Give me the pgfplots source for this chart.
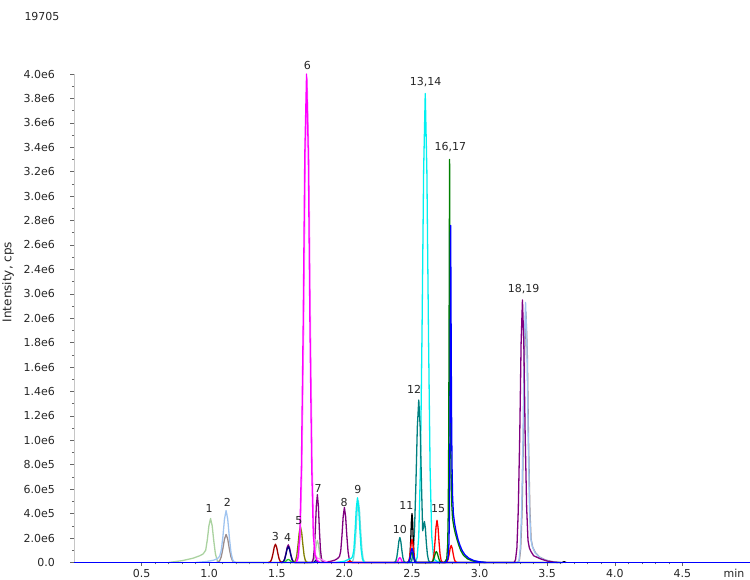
\documentclass[border=0pt]{standalone}
\usepackage{pgfplots}
\pgfplotsset{compat=1.18}
\usepackage{fontspec}
\setmainfont{DejaVu Sans}
\definecolor{cLG}{RGB}{170,210,160}
\definecolor{cLB}{RGB}{160,196,240}
\definecolor{cGR}{RGB}{155,140,140}
\definecolor{cDR}{RGB}{160,0,0}
\definecolor{cNV}{RGB}{0,0,128}
\definecolor{cPU}{RGB}{128,0,128}
\definecolor{cOL}{RGB}{128,128,0}
\definecolor{cBG}{RGB}{40,200,40}
\definecolor{cPK}{RGB}{255,130,255}
\definecolor{cMG}{RGB}{255,0,255}
\definecolor{cLC}{RGB}{110,220,220}
\definecolor{cCY}{RGB}{0,240,240}
\definecolor{cTL}{RGB}{0,128,128}
\definecolor{cBK}{RGB}{0,0,0}
\definecolor{cRD}{RGB}{255,0,0}
\definecolor{cGN}{RGB}{0,128,0}
\definecolor{cBL}{RGB}{0,0,255}
\begin{document}
\begin{tikzpicture}[x=1pt,y=1pt]
\useasboundingbox (0,0) rectangle (750,580);
\begin{axis}[
  at={(74pt,17.5pt)}, anchor=south west,
  scale only axis, width=676pt, height=488.5pt,
  xmin=0, xmax=5, ymin=0, ymax=4000000,
  axis lines=left, axis line style={-, draw=gray!45, line width=0.8pt},
  clip=false,
  xtick={0.5,1,1.5,2,2.5,3,3.5,4,4.5},
  xticklabels={0.5,1.0,1.5,2.0,2.5,3.0,3.5,4.0,4.5},
  minor x tick num=4,
  ytick={0,200000,400000,600000,800000,1000000,1200000,1400000,1600000,1800000,2000000,2200000,2400000,2600000,2800000,3000000,3200000,3400000,3600000,3800000,4000000},
  yticklabels={0.0,2.0e6,4.0e5,6.0e5,8.0e5,1.0e6,1.2e6,1.4e6,1.6e6,1.8e6,2.0e6,3.0e6,2.4e6,2.6e6,2.8e6,3.0e6,3.2e6,3.4e6,3.6e6,3.8e6,4.0e6},
  minor y tick num=1,
  scaled y ticks=false,
  tick align=outside, major tick length=3.5pt, minor tick length=2pt,
  tick style={draw=gray!80!black, line width=0.6pt},
  tick label style={font=\fontsize{11}{13}\selectfont, text=black!85},
  yticklabel style={xshift=-12pt},
  every axis plot/.append style={line width=1.3pt, line join=round, mark=none},
]
% light green
\addplot[cLG] coordinates {(0.70,0)(0.80,0.15e5)(0.88,0.35e5)(0.93,0.55e5)(0.955,0.7e5)(0.974,1.0e5)(0.986,1.85e5)(0.998,3.01e5)(1.01,3.6e5)(1.022,3.01e5)(1.034,1.75e5)(1.046,0.71e5)(1.058,0.2e5)(1.07,0.04e5)(1.082,0)
 (1.755,0)(1.7625,0.02e5)(1.77,0.10e5)(1.7775,0.36e5)(1.785,0.88e5)(1.7925,1.50e5)(1.80,1.8e5)(1.8075,1.50e5)(1.815,0.88e5)(1.8225,0.36e5)(1.83,0.10e5)(1.8375,0.02e5)(1.845,0)};
% gray
\addplot[cGR] coordinates {(1.053,0)(1.065,0.03e5)(1.077,0.13e5)(1.089,0.46e5)(1.101,1.12e5)(1.113,1.92e5)(1.125,2.3e5)(1.137,1.92e5)(1.149,1.12e5)(1.161,0.46e5)(1.173,0.13e5)(1.185,0.03e5)(1.197,0)
 (3.285,0)(3.295,0.23e5)(3.304,1.15e5)(3.314,4.06e5)(3.324,9.98e5)(3.333,17.12e5)(3.343,20.5e5)(3.353,17.12e5)(3.362,9.98e5)(3.372,4.3e5)(3.381,1.9e5)(3.393,1.25e5)(3.413,0.8e5)(3.443,0.45e5)(3.483,0.22e5)(3.523,0.1e5)(3.563,0.03e5)(3.6,0)};
% light blue
\addplot[cLB] coordinates {(0.90,0)(0.98,0.08e5)(1.03,0.18e5)(1.053,0.28e5)(1.065,0.36e5)(1.077,0.5e5)(1.089,0.98e5)(1.101,2.07e5)(1.113,3.55e5)(1.125,4.25e5)(1.137,3.55e5)(1.149,2.07e5)(1.161,0.84e5)(1.173,0.24e5)(1.185,0.05e5)(1.197,0)
 (3.282,0)(3.292,0.23e5)(3.301,1.19e5)(3.311,4.22e5)(3.321,10.37e5)(3.33,17.79e5)(3.34,21.3e5)(3.35,17.79e5)(3.359,10.37e5)(3.369,4.5e5)(3.378,2.0e5)(3.39,1.3e5)(3.41,0.8e5)(3.44,0.45e5)(3.48,0.22e5)(3.52,0.1e5)(3.56,0.03e5)(3.6,0)};
% dark red
\addplot[cDR] coordinates {(1.436,0)(1.445,0.02e5)(1.454,0.08e5)(1.463,0.3e5)(1.472,0.73e5)(1.481,1.25e5)(1.49,1.5e5)(1.499,1.25e5)(1.508,0.73e5)(1.517,0.3e5)(1.526,0.08e5)(1.535,0.02e5)(1.544,0)};
% purple
\addplot[cPU] coordinates {(1.531,0)(1.54,0.02e5)(1.549,0.08e5)(1.558,0.29e5)(1.567,0.71e5)(1.576,1.21e5)(1.585,1.45e5)(1.594,1.21e5)(1.603,0.71e5)(1.612,0.29e5)(1.621,0.08e5)(1.63,0.02e5)(1.639,0)
 (1.755,0)(1.7625,0.06e5)(1.77,0.31e5)(1.7775,1.10e5)(1.785,2.70e5)(1.7925,4.63e5)(1.80,5.55e5)(1.8075,4.63e5)(1.815,2.70e5)(1.8225,1.10e5)(1.83,0.35e5)(1.8375,0.12e5)(1.845,0.05e5)
 (1.86,0.03e5)(1.90,0.1e5)(1.93,0.2e5)(1.946,0.3e5)(1.955,0.38e5)(1.964,0.5e5)(1.973,0.95e5)(1.982,2.19e5)(1.991,3.76e5)(2.0,4.5e5)(2.009,3.76e5)(2.018,2.19e5)(2.027,0.89e5)(2.036,0.25e5)(2.045,0.05e5)(2.054,0)
 (3.256,0)(3.266,0.24e5)(3.276,1.20e5)(3.286,4.26e5)(3.297,10.47e5)(3.307,17.95e5)(3.317,21.5e5)(3.327,17.95e5)(3.337,10.47e5)(3.348,4.5e5)(3.358,1.8e5)(3.368,1.2e5)(3.38,0.9e5)(3.40,0.55e5)(3.45,0.3e5)(3.50,0.12e5)(3.55,0.03e5)(3.58,0)};
% navy
\addplot[cNV] coordinates {(1.531,0)(1.54,0.01e5)(1.549,0.07e5)(1.558,0.26e5)(1.567,0.63e5)(1.576,1.09e5)(1.585,1.3e5)(1.594,1.09e5)(1.603,0.63e5)(1.612,0.26e5)(1.621,0.07e5)(1.63,0.01e5)(1.639,0)(1.775,0)(1.79,0.2e5)(1.805,0)};
% bright green
\addplot[cBG] coordinates {(1.55,0)(1.565,0.08e5)(1.575,0.2e5)(1.585,0.25e5)(1.595,0.2e5)(1.605,0.08e5)(1.62,0)};
% olive
\addplot[cOL] coordinates {(1.621,0)(1.63,0.03e5)(1.639,0.17e5)(1.648,0.58e5)(1.657,1.44e5)(1.666,2.46e5)(1.675,2.95e5)(1.684,2.46e5)(1.693,1.44e5)(1.702,0.58e5)(1.711,0.17e5)(1.72,0.03e5)(1.729,0)};
% pink
\addplot[cPK] coordinates {(1.648,0)(1.661,0.44e5)(1.674,2.22e5)(1.686,7.84e5)(1.699,19.29e5)(1.711,33.07e5)(1.724,39.6e5)(1.737,33.07e5)(1.749,19.29e5)(1.762,7.84e5)(1.774,2.22e5)(1.787,0.6e5)(1.80,0.35e5)(1.82,0.3e5)(1.85,0.15e5)(1.88,0)};
% magenta
\addplot[cMG] coordinates {(1.644,0)(1.657,0.44e5)(1.670,2.24e5)(1.682,7.92e5)(1.695,19.48e5)(1.707,33.4e5)(1.72,40e5)(1.733,33.4e5)(1.745,19.48e5)(1.758,7.92e5)(1.770,2.24e5)(1.783,0.6e5)(1.796,0.2e5)(1.82,0)
 (2.38,0)(2.395,0.1e5)(2.4025,0.3e5)(2.41,0.4e5)(2.4175,0.3e5)(2.425,0.1e5)(2.44,0)};
% light cyan
\addplot[cLC] coordinates {(2.049,0)(2.058,0.06e5)(2.067,0.28e5)(2.076,1.0e5)(2.085,2.46e5)(2.094,4.22e5)(2.103,5.05e5)(2.112,4.22e5)(2.121,2.46e5)(2.13,1.0e5)(2.139,0.28e5)(2.148,0.06e5)(2.157,0)};
% cyan
\addplot[cCY] coordinates {(1.94,0)(2.0,0.1e5)(2.03,0.25e5)(2.043,0.3e5)(2.052,0.35e5)(2.061,0.5e5)(2.07,1.05e5)(2.079,2.58e5)(2.088,4.43e5)(2.097,5.3e5)(2.106,4.43e5)(2.115,2.58e5)(2.124,1.05e5)(2.133,0.3e5)(2.142,0.06e5)(2.151,0)
 (2.526,0)(2.538,0.42e5)(2.55,2.15e5)(2.562,7.6e5)(2.574,18.7e5)(2.586,32.06e5)(2.598,38.4e5)(2.61,32.06e5)(2.622,18.7e5)(2.634,7.6e5)(2.646,2.15e5)(2.658,0.6e5)(2.67,0.2e5)(2.70,0)};
% teal
\addplot[cTL] coordinates {(2.365,0)(2.3725,0.02e5)(2.38,0.11e5)(2.3875,0.41e5)(2.395,1.0e5)(2.4025,1.71e5)(2.41,2.05e5)(2.4175,1.71e5)(2.425,1.0e5)(2.4325,0.41e5)(2.44,0.11e5)(2.4475,0.02e5)(2.455,0)
 (2.487,0)(2.4975,0.15e5)(2.508,0.75e5)(2.5185,2.63e5)(2.529,6.48e5)(2.5395,11.11e5)(2.55,13.3e5)(2.5605,11.11e5)(2.571,6.0e5)(2.579,2.6e5)(2.585,2.9e5)(2.592,3.35e5)(2.599,2.8e5)(2.606,1.6e5)(2.614,0.65e5)(2.622,0.19e5)(2.63,0.04e5)(2.64,0)};
% black
\addplot[cBK] coordinates {(2.473,0)(2.4775,0.04e5)(2.482,0.22e5)(2.4865,0.79e5)(2.491,1.95e5)(2.4955,3.34e5)(2.50,4.0e5)(2.5045,3.34e5)(2.509,1.95e5)(2.5135,0.79e5)(2.518,0.22e5)(2.5225,0.04e5)(2.527,0)(3.61,0)(3.625,0.07e5)(3.64,0)};
% red
\addplot[cRD] coordinates {(2.02,0)(2.04,0.12e5)(2.06,0)
 (2.464,0)(2.47,0.02e5)(2.476,0.11e5)(2.482,0.38e5)(2.488,0.93e5)(2.494,1.59e5)(2.50,1.9e5)(2.506,1.59e5)(2.512,0.93e5)(2.518,0.38e5)(2.524,0.11e5)(2.53,0.02e5)(2.536,0)
 (2.64,0)(2.6475,0.04e5)(2.655,0.19e5)(2.6625,0.68e5)(2.67,1.68e5)(2.6775,2.88e5)(2.685,3.45e5)(2.6925,2.88e5)(2.70,1.68e5)(2.7075,0.68e5)(2.715,0.19e5)(2.7225,0.04e5)(2.73,0)
 (2.745,0)(2.7525,0.02e5)(2.76,0.08e5)(2.7675,0.28e5)(2.775,0.68e5)(2.7825,1.17e5)(2.79,1.4e5)(2.7975,1.17e5)(2.805,0.68e5)(2.8125,0.28e5)(2.82,0.08e5)(2.8275,0.02e5)(2.835,0)};
% green
\addplot[cGN] coordinates {(2.464,0)(2.47,0.01e5)(2.476,0.05e5)(2.482,0.17e5)(2.488,0.41e5)(2.494,0.71e5)(2.50,0.85e5)(2.506,0.71e5)(2.512,0.41e5)(2.518,0.17e5)(2.524,0.05e5)(2.53,0.01e5)(2.536,0)
 (2.635,0)(2.6425,0.01e5)(2.65,0.05e5)(2.6575,0.18e5)(2.665,0.44e5)(2.6725,0.75e5)(2.68,0.9e5)(2.6875,0.75e5)(2.695,0.44e5)(2.7025,0.18e5)(2.71,0.05e5)(2.7175,0.01e5)(2.725,0)
 (2.74,0)(2.757,0.3e5)(2.764,1.5e5)(2.768,4e5)(2.771,9e5)(2.774,18e5)(2.776,26e5)(2.778,33e5)(2.780,26e5)(2.783,17e5)(2.786,10e5)(2.79,6.5e5)(2.795,4.6e5)(2.80,3.6e5)(2.81,2.9e5)(2.82,2.4e5)(2.83,2.0e5)(2.845,1.45e5)(2.86,1.0e5)(2.88,0.6e5)(2.91,0.3e5)(2.95,0.12e5)(3.0,0.04e5)(3.04,0)};
% blue peaks
\addplot[cBL] coordinates {(2.464,0)(2.47,0.01e5)(2.476,0.07e5)(2.482,0.23e5)(2.488,0.56e5)(2.494,0.96e5)(2.50,1.15e5)(2.506,0.96e5)(2.512,0.56e5)(2.518,0.23e5)(2.524,0.07e5)(2.53,0.01e5)(2.536,0)
 (2.75,0)(2.766,0.3e5)(2.773,1.5e5)(2.777,4e5)(2.78,9e5)(2.783,16e5)(2.786,27.6e5)(2.789,20e5)(2.792,13e5)(2.796,8e5)(2.80,5.5e5)(2.806,4.0e5)(2.815,3.2e5)(2.825,2.6e5)(2.84,1.9e5)(2.855,1.4e5)(2.87,1.0e5)(2.89,0.65e5)(2.92,0.35e5)(2.96,0.15e5)(3.0,0.06e5)(3.05,0)};
% blue baseline
\addplot[cBL, line width=1.8pt] coordinates {(0,0)(5,0)};
% peak labels
\begin{scope}[every node/.style={font=\fontsize{11}{13}\selectfont, text=black!85, inner sep=0pt}]
\node at (axis cs:1.0,4.44e5) {1};
\node at (axis cs:1.135,4.95e5) {2};
\node at (axis cs:1.49,2.11e5) {3};
\node at (axis cs:1.58,2.06e5) {4};
\node at (axis cs:1.663,3.42e5) {5};
\node at (axis cs:1.727,40.68e5) {6};
\node at (axis cs:1.806,6.07e5) {7};
\node at (axis cs:1.998,4.93e5) {8};
\node at (axis cs:2.099,5.94e5) {9};
\node at (axis cs:2.41,2.72e5) {10};
\node at (axis cs:2.459,4.63e5) {11};
\node at (axis cs:2.515,14.2e5) {12};
\node at (axis cs:2.60,39.3e5) {13,14};
\node at (axis cs:2.693,4.44e5) {15};
\node at (axis cs:2.784,34.0e5) {16,17};
\node at (axis cs:3.326,22.4e5) {18,19};
\end{scope}
\end{axis}
\node[font=\fontsize{11}{13}\selectfont, text=black!85] at (734,7) {min};
\node[font=\fontsize{11}{13}\selectfont, text=black!85] at (42,563) {19705};
\node[font=\fontsize{12}{14}\selectfont, text=black!85, rotate=90] at (8,298) {Intensity, cps};
\end{tikzpicture}
\end{document}
